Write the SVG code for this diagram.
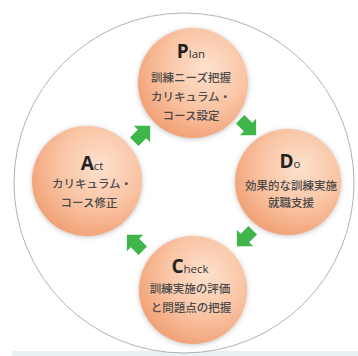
<svg xmlns="http://www.w3.org/2000/svg" width="358" height="356" viewBox="0 0 358 356">
<defs>
<style>
.node{fill:url(#og);filter:url(#sh)}
.big{font-family:"Open Sans","Noto Sans",sans-serif;font-weight:700;font-size:19px;fill:#222}
.sm{font-family:"Open Sans","Noto Sans",sans-serif;font-weight:400;font-size:11.5px;fill:#333}
.jp{font-family:"Noto Sans CJK JP",sans-serif;font-weight:500;font-size:11.5px;fill:#4a4a4a;text-anchor:middle}
.arr{fill:#3fb54b}
</style>
<radialGradient id="og" cx="0.62" cy="0.36" r="0.78">
<stop offset="0" stop-color="#fde1ce"/>
<stop offset="0.5" stop-color="#f9c3a2"/>
<stop offset="1" stop-color="#ef9566"/>
</radialGradient>
<filter id="sh" x="-20%" y="-20%" width="140%" height="140%">
<feDropShadow dx="0" dy="1" stdDeviation="2.5" flood-color="#888" flood-opacity="0.5"/>
</filter>
<polygon id="ar" points="-11,-6 0,-6 0,-11.5 11.5,0 0,11.5 0,6 -11,6"/>
</defs>
<rect width="358" height="356" fill="#fff"/>
<rect x="12" y="351" width="346" height="5" fill="#e8f0f4"/>
<circle cx="184" cy="183" r="170" fill="#fff" stroke="#b3b3b3" stroke-width="1"/>
<g id="connectors">
<use href="#ar" class="arr" transform="translate(142,134) rotate(-45)"/>
<use href="#ar" class="arr" transform="translate(248,127) rotate(45)"/>
<use href="#ar" class="arr" transform="translate(245,238) rotate(135)"/>
<use href="#ar" class="arr" transform="translate(135,243) rotate(-135)"/>
</g>
<g id="plan">
<circle class="node" cx="193" cy="83" r="55"/>
<text x="191" y="58" text-anchor="middle"><tspan class="big">P</tspan><tspan class="sm">lan</tspan></text>
<text class="jp" x="191" y="82">訓練ニーズ把握</text>
<text class="jp" x="191" y="101">カリキュラム・</text>
<text class="jp" x="191" y="120">コース設定</text>
</g>
<g id="do">
<circle class="node" cx="288" cy="182" r="53"/>
<text x="290" y="168" text-anchor="middle"><tspan class="big">D</tspan><tspan class="sm">o</tspan></text>
<text class="jp" x="291" y="190">効果的な訓練実施</text>
<text class="jp" x="291" y="207">就職支援</text>
</g>
<g id="check">
<circle class="node" cx="193" cy="290" r="54"/>
<text x="190" y="273" text-anchor="middle"><tspan class="big">C</tspan><tspan class="sm">heck</tspan></text>
<text class="jp" x="190" y="293">訓練実施の評価</text>
<text class="jp" x="191" y="312">と問題点の把握</text>
</g>
<g id="act">
<circle class="node" cx="87" cy="181" r="55"/>
<text x="92" y="170" text-anchor="middle"><tspan class="big">A</tspan><tspan class="sm">ct</tspan></text>
<text class="jp" x="92" y="188">カリキュラム・</text>
<text class="jp" x="89" y="207">コース修正</text>
</g>
</svg>
